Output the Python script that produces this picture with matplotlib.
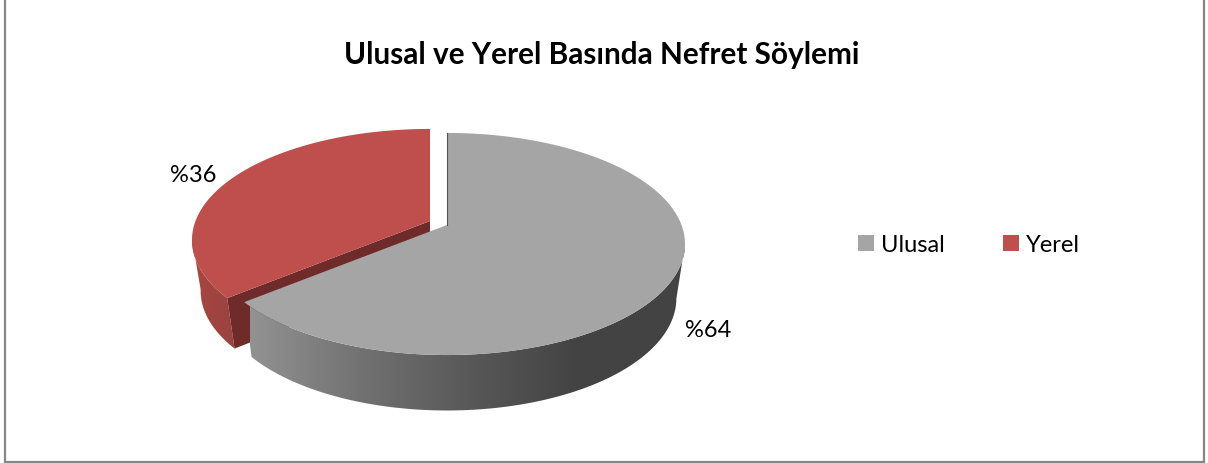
import matplotlib
matplotlib.use('Agg')
import matplotlib.pyplot as plt
import numpy as np
from matplotlib.patches import Polygon, Patch

plt.rcParams['font.family'] = ['Lato', 'DejaVu Sans']

title = 'Ulusal ve Yerel Basında Nefret Söylemi'
names = ['Ulusal', 'Yerel']
shares = [64, 36]
labels = ['%64', '%36']
colors = ['#a5a5a5', '#be4f4c']


def project(theta, x0, y0, rx, ry, k=0.171):
    # clockwise from the top, far side of the disc is squeezed a bit
    s, c = np.sin(theta), np.cos(theta)
    w = 1 + k * c
    return np.column_stack([x0 + rx * s / w, y0 - ry * c / w])


def gradient(ax, poly, stops, x0, x1, zorder):
    rgb = np.array([matplotlib.colors.to_rgb(c) for c in stops])
    xs = np.linspace(0, 1, 256)
    pos = np.linspace(0, 1, len(stops))
    img = np.stack([np.interp(xs, pos, rgb[:, i]) for i in range(3)], axis=1)[None, :, :]
    im = ax.imshow(img, extent=[x0, x1, 464, 0], aspect='auto', zorder=zorder,
                   interpolation='bilinear')
    patch = Polygon(poly, closed=True, fc='none', ec='none', zorder=zorder)
    ax.add_patch(patch)
    im.set_clip_path(patch)


fig = plt.figure(figsize=(12.08, 4.64), dpi=100)
ax = fig.add_axes([0, 0, 1, 1])
ax.set_xlim(0, 1208)
ax.set_ylim(464, 0)
ax.axis('off')

ax.add_patch(plt.Rectangle((5, -5), 1199, 467.5, fc='white', ec='#868686', lw=1.6, zorder=0))

split = 2 * np.pi * shares[0] / sum(shares)

# grey slice
top = dict(x0=447, y0=226, rx=234.5, ry=107.8)
low = dict(x0=447, y0=280, rx=226, ry=109)
t_side = np.linspace(np.radians(100), split, 150)
side = np.vstack([project(t_side, **top), project(t_side[::-1], **low)])
gradient(ax, side, ['#929292', '#727272', '#585858', '#434343', '#434343'], 250, 690, 4)

t = np.linspace(0, split, 250)
face = np.vstack([[top['x0'], top['y0']], project(t, **top)])
ax.add_patch(Polygon(face, closed=True, fc=colors[0], ec='none', zorder=5))
ax.plot([447, 447], [134, 226], color='#555555', lw=0.8, zorder=6)

# red slice, pulled out
top_r = dict(x0=430, y0=222, rx=234.5, ry=107.8)
low_r = dict(x0=430, y0=273, rx=226, ry=107)
t_r = np.linspace(split, 2 * np.pi, 150)
t_side_r = t_r[t_r < np.radians(261)]
side_r = np.vstack([project(t_side_r, **top_r), project(t_side_r[::-1], **low_r)])
gradient(ax, side_r, ['#a9483f', '#a04440', '#9a4240'], 190, 240, 1)

inner = np.vstack([[top_r['x0'], top_r['y0']], project([split], **top_r),
                   project([split], **low_r), [low_r['x0'], low_r['y0']]])
ax.add_patch(Polygon(inner, closed=True, fc='#6e2b29', ec='none', zorder=2))
face_r = np.vstack([[top_r['x0'], top_r['y0']], project(t_r, **top_r)])
ax.add_patch(Polygon(face_r, closed=True, fc=colors[1], ec='none', zorder=3))

ax.text(602, 55, title, ha='center', va='center', fontsize=21.4, fontweight='bold', color='black')
ax.text(708, 331, labels[0], ha='center', va='center', fontsize=17, color='black')
ax.text(193, 176, labels[1], ha='center', va='center', fontsize=17, color='black')

handles = [Patch(fc=c, ec='none', label=n) for c, n in zip(colors, names)]
ax.legend(handles=handles, ncol=2, loc='center left', bbox_to_anchor=(837, 246),
          bbox_transform=ax.transData, frameon=False, fontsize=17,
          handlelength=0.65, handleheight=0.65, handletextpad=0.3, columnspacing=2.5)

fig.savefig('out.png', dpi=100)
